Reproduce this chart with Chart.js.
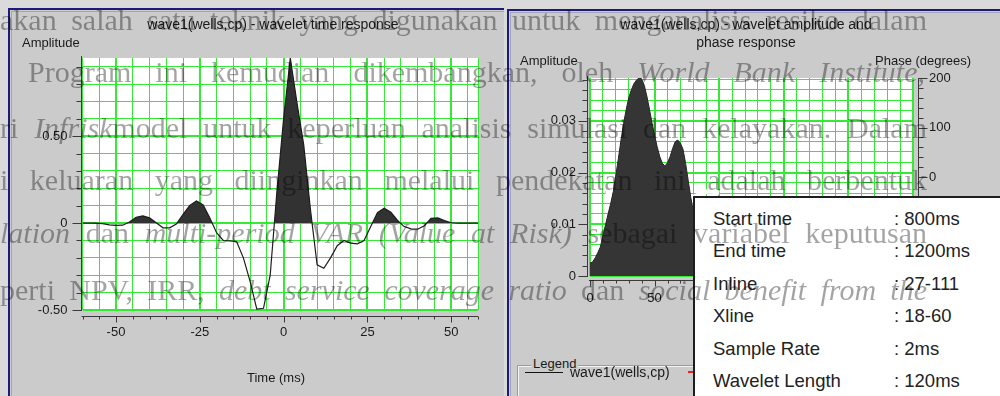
<!DOCTYPE html>
<html>
<head>
<meta charset="utf-8">
<script src="https://cdn.jsdelivr.net/npm/chart.js@4.4.1/dist/chart.umd.min.js"></script>
<style>
  html, body { margin: 0; padding: 0; }
  body {
    width: 1000px; height: 396px; position: relative; overflow: hidden;
    background: #dadada; font-family: "Liberation Sans", Arial, sans-serif;
  }
  .panel {
    position: absolute; background: #cbcbcb;
    border-left: 2px solid #1c1c78; border-top: 2px solid #1c1c78;
  }
  .panel .inner {
    position: absolute; left: 1px; top: 1px; right: 0; bottom: 0;
    border-left: 1px solid #a4a4bc; border-top: 1px solid #a4a4bc;
  }
  canvas { position: absolute; top: 0; }
  .lbl {
    position: absolute; font-size: 13px; color: #1a1a1a;
    white-space: nowrap; line-height: 16px; transform: translateY(-50%);
  }
  .ctr { transform: translate(-50%, -50%); }
  .title { font-size: 14px; }
  .legend-box {
    position: absolute; left: 518px; top: 366px; width: 400px; height: 60px;
    border-left: 1px solid #f2f2f2; border-top: 1px solid #f2f2f2;
    box-shadow: -1px -1px 0 #9c9c9c;
  }
  .swatch { position: absolute; height: 1px; background: #111; }
  .info {
    position: absolute; left: 693px; top: 196px; width: 320px; height: 220px;
    background: #ffffff; border-left: 2px solid #1e1e1e; border-top: 2px solid #1e1e1e;
    z-index: 5;
  }
  .info div {
    position: absolute; font-size: 18.5px; color: #222; white-space: nowrap;
    line-height: 22px; transform: translateY(-50%);
  }
  .wm {
    position: absolute; white-space: nowrap; z-index: 10; pointer-events: none;
    font-family: "Liberation Serif", "DejaVu Serif", serif; font-size: 30px;
    line-height: 30px; color: rgba(0, 0, 0, 0.36);
  }
  .wm i { font-style: italic; }
</style>
</head>
<body>

<div class="panel" style="left:8px;top:8px;width:494px;height:400px;"><div class="inner"></div></div>
<div class="panel" style="left:507px;top:9px;width:500px;height:400px;"><div class="inner"></div></div>

<canvas id="timeChart" width="500" height="396" style="left:0px;"></canvas>
<canvas id="specChart" width="500" height="396" style="left:500px;"></canvas>

<!-- left panel texts -->
<div class="lbl ctr title" style="left:273px;top:24px;">wave1(wells,cp) - wavelet time response</div>
<div class="lbl" style="left:22px;top:43px;">Amplitude</div>
<div class="lbl ctr" style="left:276px;top:378px;">Time (ms)</div>

<!-- right panel texts -->
<div class="lbl ctr title" style="left:746px;top:24px;">wave1(wells,cp) - wavelet amplitude and</div>
<div class="lbl ctr title" style="left:746px;top:42px;">phase response</div>
<div class="lbl" style="left:520px;top:61px;">Amplitude</div>
<div class="lbl" style="left:875px;top:61px;">Phase (degrees)</div>

<!-- legend group -->
<div class="legend-box"></div>
<div class="lbl" style="left:531px;top:364px;background:#cbcbcb;padding:0 2px;">Legend</div>
<div class="swatch" style="left:525px;top:372px;width:38px;"></div>
<div class="lbl" id="legendName" style="left:570px;top:372px;font-size:14px;"></div>
<div class="swatch" style="left:688px;top:371px;width:20px;height:2px;background:#e8231f;"></div>

<!-- acquisition parameters -->
<div class="info">
  <div style="left:18px;top:21px;">Start time</div><div style="left:199px;top:21px;">: 800ms</div>
  <div style="left:18px;top:53px;">End time</div><div style="left:199px;top:53px;">: 1200ms</div>
  <div style="left:18px;top:86px;">Inline</div><div style="left:199px;top:86px;">: 27-111</div>
  <div style="left:18px;top:118px;">Xline</div><div style="left:199px;top:118px;">: 18-60</div>
  <div style="left:18px;top:151px;">Sample Rate</div><div style="left:199px;top:151px;">: 2ms</div>
  <div style="left:18px;top:183px;">Wavelet Length</div><div style="left:199px;top:183px;">: 120ms</div>
</div>

<!-- page text printed over the figure -->
<div class="wm" data-w="927" style="left:0px;top:5px;">akan salah satu teknik yang digunakan untuk menganalisis resiko dalam</div>
<div class="wm" data-w="897" style="left:28px;top:57px;">Program ini kemudian dikembangkan, oleh <i>World Bank Institute,</i></div>
<div class="wm" data-w="927" style="left:0px;top:113px;">ri <i>Infrisk</i>model untuk keperluan analisis simulasi dan kelayakan. Dalam</div>
<div class="wm" data-w="927" style="left:0px;top:165px;">i keluaran yang diinginkan melalui pendekatan ini adalah berbentuk</div>
<div class="wm" data-w="927" style="left:0px;top:218px;"><i>lation</i> dan <i>multi-period VAR (Value at Risk)</i> sebagai variabel keputusan</div>
<div class="wm" data-w="927" style="left:0px;top:275px;">perti NPV, IRR, <i>debt service coverage ratio</i> dan <i>social benefit from the</i></div>

<script>
// ---- wavelet time response (2 ms sampling) ----
const timeMs = [-60, -58, -56, -54, -52, -50, -48, -46, -44, -42,
                -40, -38, -36, -34, -32, -30, -28, -26, -24, -22,
                -20, -18, -16, -14, -12, -10, -8, -6, -4, -2,
                0, 2, 4, 6, 8, 10, 12, 14, 16, 18,
                20, 22, 24, 26, 28, 30, 32, 34, 36, 38,
                40, 42, 44, 46, 48, 50, 52, 54, 56, 58];
const amplitude = [0, 0, 0, -0.003, -0.01, -0.013, -0.012, 0.006, 0.034, 0.042,
                   0.03, 0.002, -0.027, -0.027, -0.005, 0.05, 0.102, 0.128, 0.105, 0.03,
                   -0.055, -0.1, -0.102, -0.107, -0.2, -0.335, -0.495, -0.49, -0.3, 0.18,
                   0.6, 0.95, 0.69, 0.45, 0.08, -0.24, -0.26, -0.2, -0.13, -0.1,
                   -0.115, -0.12, -0.1, -0.02, 0.06, 0.085, 0.062, 0.015, -0.02, -0.033,
                   -0.035, -0.015, 0.028, 0.03, 0.015, 0.002, 0, 0, 0, 0];
const timeTickLabels = ['-50', '-25', '0', '25', '50'];
const amplitudeTickLabels = ['-0.50', '0', '0.50'];

// ---- amplitude spectrum and phase ----
const freqHz = [0, 2, 4, 6, 8, 10, 12, 14, 16, 18,
                20, 22, 24, 26, 28, 30, 32, 34, 36, 38,
                40, 42, 44, 46, 48, 50, 52, 54, 56, 58,
                60, 62, 64, 66, 68, 70, 72, 74, 76, 78,
                80, 84, 88, 92, 96, 100, 110, 120, 130, 140,
                160, 180, 200, 220, 250];
const spectrumAmp = [0.0025, 0.0027, 0.0035, 0.0045, 0.0056, 0.0078, 0.0099, 0.012, 0.014, 0.0163,
                     0.0195, 0.0228, 0.0263, 0.0295, 0.0322, 0.0345, 0.036, 0.0372, 0.0379, 0.0383,
                     0.0381, 0.0369, 0.0348, 0.0323, 0.0296, 0.0272, 0.025, 0.0231, 0.0218, 0.0213,
                     0.0219, 0.0231, 0.0247, 0.026, 0.0263, 0.0257, 0.0245, 0.0218, 0.0185, 0.0152,
                     0.0125, 0.009, 0.0065, 0.0045, 0.003, 0.002, 0.0008, 0.0004, 0.0002, 0.0001,
                     0.0001, 0, 0, 0, 0];
const phaseFreqHz = [12, 16, 20, 24, 28, 32, 36, 40, 44, 48,
                     52, 56, 60, 64, 68, 72, 76, 80, 84, 88,
                     92, 96, 100];
const phaseDeg = [-31, -30, -28.5, -27.5, -27, -28, -29, -30, -31, -32.5,
                  -34, -35, -36, -36.5, -37, -38, -39.5, -40, -36, -31,
                  -29, -30, -32];
const freqTickLabels = ['0', '50', '100', '150', '200', '250'];
const specAmpTickLabels = ['0', '0.01', '0.02', '0.03'];
const phaseTickLabels = ['-200', '-100', '0', '100', '200'];
const seriesName = 'wave1(wells,cp)';

document.getElementById('legendName').textContent = seriesName;

Chart.defaults.font.family = '"Liberation Sans", Arial, sans-serif';
Chart.defaults.font.size = 13;
Chart.defaults.color = '#1a1a1a';

const GRID = '#36e936';
const AXIS = '#3a3a3a';

function steps(from, to, step) {
  const out = [];
  const n = Math.round((to - from) / step);
  for (let k = 0; k <= n; k++) out.push(+(from + k * step).toFixed(6));
  return out;
}
const near = (a, b) => Math.abs(a - b) < 1e-9;
const labelFor = (labels) => (v) => {
  const hit = labels.find(s => near(Number(s), v));
  return hit === undefined ? '' : hit;
};
const isMajor = (labels) => (v) => labels.some(s => near(Number(s), v));

// white plot field, then axis lines with long/short tick marks outside the field
function makeFrame(axes) {
  return {
    id: 'frame',
    beforeDraw(chart) {
      const { ctx, chartArea: a } = chart;
      ctx.save();
      ctx.fillStyle = '#ffffff';
      ctx.fillRect(a.left, a.top, a.right - a.left, a.bottom - a.top);
      ctx.restore();
    },
    afterDraw(chart) {
      const { ctx, chartArea: a } = chart;
      ctx.save();
      ctx.strokeStyle = AXIS;
      ctx.lineWidth = 1;
      axes.forEach(ax => {
        const s = chart.scales[ax.id];
        ctx.beginPath();
        if (ax.side === 'bottom') {
          const y = Math.round(a.bottom + ax.gap) + 0.5;
          ctx.moveTo(a.left - 1, y); ctx.lineTo(a.right, y);
          s.ticks.forEach(t => {
            const x = Math.round(s.getPixelForValue(t.value)) + 0.5;
            ctx.moveTo(x, y); ctx.lineTo(x, y + (ax.major(t.value) ? 6 : 3));
          });
        } else if (ax.side === 'left') {
          const x = Math.round(a.left - ax.gap) - 0.5;
          ctx.moveTo(x, a.top - 2); ctx.lineTo(x, a.bottom + 1);
          s.ticks.forEach(t => {
            const y = Math.round(s.getPixelForValue(t.value)) + 0.5;
            ctx.moveTo(x, y); ctx.lineTo(x - (ax.major(t.value) ? 9 : 5), y);
          });
        } else {
          const x = Math.round(a.right + ax.gap) + 0.5;
          ctx.moveTo(x, a.top); ctx.lineTo(x, a.bottom + 1);
          s.ticks.forEach(t => {
            const y = Math.round(s.getPixelForValue(t.value)) + 0.5;
            ctx.moveTo(x, y); ctx.lineTo(x + (ax.major(t.value) ? 9 : 5), y);
          });
        }
        ctx.stroke();
      });
      ctx.restore();
    }
  };
}

// ---------- time response ----------
const timeMajor = isMajor(timeTickLabels);
const ampMajor = isMajor(amplitudeTickLabels);

new Chart(document.getElementById('timeChart'), {
  type: 'line',
  data: {
    datasets: [{
      label: seriesName,
      data: timeMs.map((t, i) => ({ x: t, y: amplitude[i] })),
      borderColor: '#1c1c1c',
      borderWidth: 1.2,
      pointRadius: 0,
      tension: 0,
      fill: { target: 'origin', above: '#323232', below: 'rgba(0,0,0,0)' }
    }]
  },
  options: {
    responsive: false,
    animation: false,
    layout: { padding: { top: 58, right: 22, bottom: 0, left: 0 } },
    plugins: { legend: { display: false }, tooltip: { enabled: false } },
    scales: {
      x: {
        type: 'linear', min: -60, max: 58,
        afterBuildTicks: s => { s.ticks = steps(-60, 55, 5).concat([58]).map(v => ({ value: v })); },
        afterFit: s => { s.height = 86; },
        border: { display: false },
        grid: {
          color: GRID, drawTicks: false,
          lineWidth: c => (c.tick && timeMajor(c.tick.value)) ? 2 : 1
        },
        ticks: { autoSkip: false, maxRotation: 0, padding: 15, callback: labelFor(timeTickLabels) }
      },
      y: {
        type: 'linear', min: -0.5, max: 0.95,
        afterBuildTicks: s => { s.ticks = steps(-0.5, 0.9, 0.1).map(v => ({ value: v })); },
        afterFit: s => { s.width = 82.5; },
        border: { display: false },
        grid: {
          color: GRID, drawTicks: false,
          lineWidth: c => (c.tick && ampMajor(c.tick.value)) ? 2 : 1
        },
        ticks: { autoSkip: false, padding: 15, callback: labelFor(amplitudeTickLabels) }
      }
    }
  },
  plugins: [makeFrame([
    { id: 'x', side: 'bottom', gap: 6, major: timeMajor },
    { id: 'y', side: 'left', gap: 1, major: ampMajor }
  ])]
});

// ---------- amplitude and phase response ----------
const freqMajor = isMajor(freqTickLabels);
const specMajor = isMajor(specAmpTickLabels);
const phaseMajor = isMajor(phaseTickLabels);
const phasePoints = phaseFreqHz.map((f, i) => ({ x: f, y: phaseDeg[i] }));

new Chart(document.getElementById('specChart'), {
  type: 'line',
  data: {
    datasets: [{
      label: seriesName,
      data: freqHz.map((f, i) => ({ x: f, y: spectrumAmp[i] })),
      yAxisID: 'yAmp',
      borderColor: '#262626',
      borderWidth: 1,
      pointRadius: 0,
      tension: 0,
      fill: { target: 'origin', above: '#353535' }
    }, {
      label: 'phase outline',
      data: phasePoints,
      yAxisID: 'yPhase',
      borderColor: '#ffffff',
      borderWidth: 4.5,
      pointRadius: 0,
      tension: 0,
      fill: false
    }, {
      label: 'phase',
      data: phasePoints,
      yAxisID: 'yPhase',
      borderColor: '#e8231f',
      borderWidth: 2,
      pointRadius: 0,
      tension: 0,
      fill: false
    }]
  },
  options: {
    responsive: false,
    animation: false,
    layout: { padding: { top: 78, right: 0, bottom: 0, left: 0 } },
    plugins: { legend: { display: false }, tooltip: { enabled: false } },
    scales: {
      x: {
        type: 'linear', min: 0, max: 250,
        afterBuildTicks: s => { s.ticks = steps(0, 250, 10).map(v => ({ value: v })); },
        afterFit: s => { s.height = 120; },
        border: { display: false },
        grid: {
          color: GRID, drawTicks: false,
          lineWidth: c => (c.tick && freqMajor(c.tick.value)) ? 2 : 1
        },
        ticks: { autoSkip: false, maxRotation: 0, padding: 15, callback: labelFor(freqTickLabels) }
      },
      yAmp: {
        type: 'linear', position: 'left', min: 0, max: 0.0383,
        afterBuildTicks: s => { s.ticks = steps(0, 0.038, 0.002).map(v => ({ value: v })); },
        afterFit: s => { s.width = 90; },
        border: { display: false },
        grid: {
          color: GRID, drawTicks: false,
          lineWidth: c => (c.tick && specMajor(c.tick.value)) ? 2 : 1
        },
        ticks: { autoSkip: false, padding: 14, callback: labelFor(specAmpTickLabels) }
      },
      yPhase: {
        type: 'linear', position: 'right', min: -200, max: 200,
        afterBuildTicks: s => { s.ticks = steps(-200, 200, 20).map(v => ({ value: v })); },
        afterFit: s => { s.width = 87; },
        border: { display: false },
        grid: { display: false, drawTicks: false },
        ticks: { autoSkip: false, padding: 16, callback: labelFor(phaseTickLabels) }
      }
    }
  },
  plugins: [makeFrame([
    { id: 'x', side: 'bottom', gap: 4, major: freqMajor },
    { id: 'yAmp', side: 'left', gap: 2, major: specMajor },
    { id: 'yPhase', side: 'right', gap: 5, major: phaseMajor }
  ])]
});

// spread each printed line across its measured width
document.querySelectorAll('.wm').forEach(el => {
  const target = Number(el.dataset.w);
  const gaps = (el.textContent.match(/ /g) || []).length;
  const natural = el.getBoundingClientRect().width;
  if (gaps > 0) el.style.wordSpacing = ((target - natural) / gaps) + 'px';
});
</script>
</body>
</html>
